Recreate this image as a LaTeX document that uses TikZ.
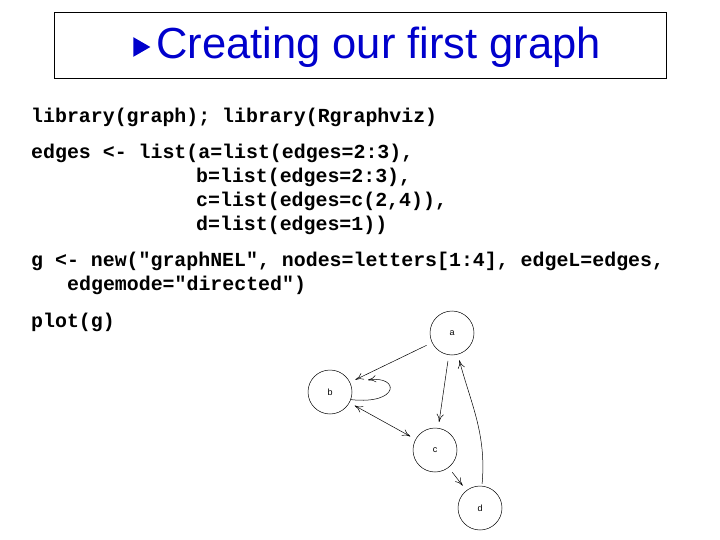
\documentclass[tikz,border=0pt]{standalone}
\usepackage{fontspec}
\setmainfont{Liberation Sans}
\newfontfamily\codefont{Liberation Mono}
\usetikzlibrary{arrows.meta,shapes.geometric}
\begin{document}
\begin{tikzpicture}[x=1pt,y=-1pt,
  code/.style={anchor=west,inner sep=0pt,font=\codefont\bfseries\fontsize{19.9}{20}\selectfont},
  vtx/.style={circle,draw,line width=0.5pt,minimum size=44pt,inner sep=0pt,font=\fontsize{9}{10}\selectfont},
  edge/.style={-{To[length=8pt,width=7pt]},line width=0.5pt,shorten >=6pt,shorten <=6pt}]
\useasboundingbox (0,0) rectangle (720,540);
\node[draw,line width=0.6pt,minimum width=612pt,minimum height=66pt,inner sep=0pt] (box) at (360,45) {};
\node[fill=blue!80!black,isosceles triangle,isosceles triangle apex angle=60,minimum height=17pt,minimum width=17pt,inner sep=0pt] (bul) at (139,47) {};
\node[anchor=west,inner sep=0pt,text=blue!80!black,font=\fontsize{43.5}{46}\selectfont] (title) at (156,47) {Creating our first graph};
\node[code] (l1) at (31,117) {library(graph); library(Rgraphviz)};
\node[code] (l2) at (31,153) {edges <- list(a=list(edges=2:3),};
\node[code] (l3) at (196,177) {b=list(edges=2:3),};
\node[code] (l4) at (196,201) {c=list(edges=c(2,4)),};
\node[code] (l5) at (196,225) {d=list(edges=1))};
\node[code] (l6) at (31,261) {g <- new("graphNEL", nodes=letters[1:4], edgeL=edges,};
\node[code] (l7) at (67,285) {edgemode="directed")};
\node[code] (l8) at (31,322) {plot(g)};
\node[vtx] (a) at (452,333) {a};
\node[vtx] (b) at (330,392) {b};
\node[vtx] (c) at (435,450) {c};
\node[vtx] (d) at (480,508) {d};
\draw[edge] (a) -- (b);
\draw[edge] (a) -- (c);
\draw[edge,{To[length=8pt,width=7pt]}-{To[length=8pt,width=7pt]}] (b) -- (c);
\draw[edge] (c) -- (d);
\draw[edge,shorten <=2pt] (d) to[out=85,in=-75] (a);
\draw[-{To[length=8pt,width=7pt]},line width=0.5pt] (b.-20) .. controls (400,405) and (400,375) .. (368,380);
\end{tikzpicture}
\end{document}
